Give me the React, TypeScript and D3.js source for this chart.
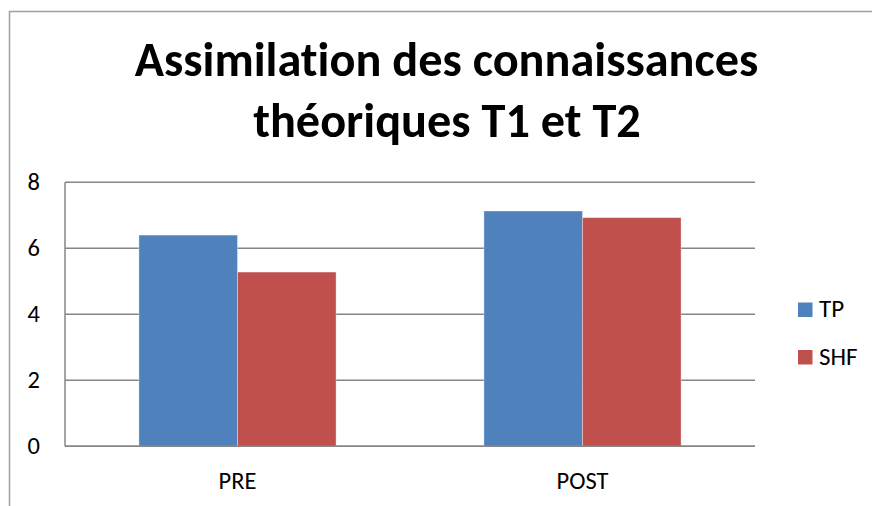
import React from "react";
import * as d3 from "d3";

const categories = ["PRE", "POST"];
const seriesNames = ["TP", "SHF"];
const tpValues = [6.4, 7.13];
const shfValues = [5.28, 6.93];
const yTicks = [0, 2, 4, 6, 8];
const titleLines = ["Assimilation des connaissances", "théoriques T1 et T2"];
const colors = ["#4F81BD", "#C0504D"];

const FONT = "Carlito, Lato, 'Liberation Sans', sans-serif";

export default function App() {
  const W = 872, H = 506;
  const plot = { left: 65, right: 755, top: 182.3, bottom: 446.3 };
  const x0 = d3.scaleBand<string>().domain(categories).range([plot.left, plot.right]).paddingInner(0).paddingOuter(0);
  const bw = x0.bandwidth();
  const barW = bw / 3.5;
  const gapHalf = (bw - 2 * barW) / 2;
  const y = d3.scaleLinear().domain([0, 8]).range([plot.bottom, plot.top]);
  const series = [tpValues, shfValues];

  return (
    <svg width={W} height={H} style={{ position: "absolute", left: 0, top: 0, background: "#fff", fontVariantLigatures: "none" }} fontFamily={FONT}>
      <rect x={9.5} y={11.5} width={W + 20} height={H + 20} fill="#fff" stroke="#a0a0a0" strokeWidth={1.5} />
      <text x={446.5} y={76} textAnchor="middle" fontWeight="bold" fontSize={48.3} fill="#000">{titleLines[0]}</text>
      <text x={447} y={137} textAnchor="middle" fontWeight="bold" fontSize={48.3} fill="#000">{titleLines[1]}</text>
      {yTicks.map((t) => (
        <g key={t}>
          <line x1={plot.left} x2={plot.right} y1={y(t)} y2={y(t)} stroke="#868686" strokeWidth={1.5} />
          <text x={40} y={y(t) + 8} textAnchor="end" fontSize={24.5} fill="#000">{t}</text>
        </g>
      ))}
      <line x1={plot.left} x2={plot.left} y1={plot.top} y2={plot.bottom} stroke="#868686" strokeWidth={1.5} />
      {categories.map((c, i) => (
        <g key={c}>
          {series.map((vals, s) => (
            <rect key={s}
              x={(x0(c) as number) + gapHalf + s * barW}
              y={y(vals[i])}
              width={barW}
              height={y(0) - y(vals[i])}
              fill={colors[s]}
              stroke="rgba(255,255,255,0.35)"
              strokeWidth={1}
            />
          ))}
          <text x={(x0(c) as number) + bw / 2} y={489.3} textAnchor="middle" fontSize={24.5} fill="#000">{c}</text>
        </g>
      ))}
      <line x1={plot.left} x2={plot.right} y1={plot.bottom} y2={plot.bottom} stroke="#868686" strokeWidth={1.5} />
      {seriesNames.map((n, s) => (
        <g key={n}>
          <rect x={798} y={302.5 + s * 47.5} width={14.5} height={14.5} fill={colors[s]} />
          <text x={819} y={317 + s * 47.5} fontSize={25} fill="#000">{n}</text>
        </g>
      ))}
    </svg>
  );
}
